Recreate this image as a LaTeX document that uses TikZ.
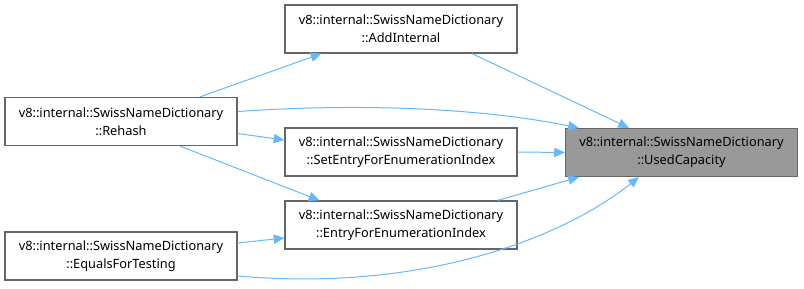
\documentclass[tikz,border=0pt]{standalone}
\usepackage{fontspec}
\setmainfont{Noto Sans}
\usetikzlibrary{arrows.meta,calc}
\definecolor{edgeblue}{HTML}{63B8FF}
\definecolor{boxline}{HTML}{666666}
\definecolor{hilite}{HTML}{999999}
\begin{document}
\begin{tikzpicture}[x=0.75pt,y=-0.75pt,
  fn/.style={draw=boxline,line width=0.9pt,fill=white,minimum width=232*0.75pt,minimum height=48*0.75pt,
    inner sep=0pt,align=center,font=\fontsize{9.6pt}{13.5pt}\selectfont},
  cur/.style={fn,fill=hilite},
  call/.style={draw=edgeblue,line width=0.75pt,-{Triangle[length=8pt,width=7pt]}}]
\useasboundingbox (0,0) rectangle (804,289);
\node[fn]  (rh) at (121,121.5) {v8::internal::SwissNameDictionary\\::Rehash};
\node[fn]  (eq) at (121,256)   {v8::internal::SwissNameDictionary\\::EqualsForTesting};
\node[fn]  (ai) at (401,29)    {v8::internal::SwissNameDictionary\\::AddInternal};
\node[fn]  (se) at (401,152)   {v8::internal::SwissNameDictionary\\::SetEntryForEnumerationIndex};
\node[fn]  (ef) at (401,225)   {v8::internal::SwissNameDictionary\\::EntryForEnumerationIndex};
\node[cur] (uc) at (681.5,152.5) {v8::internal::SwissNameDictionary\\::UsedCapacity};
% callers of Rehash
\draw[call] ($(rh.north)+(79,0)$) -- ($(ai.south west)+(37,0)$);
\draw[call] ($(rh.east)+(0,-10)$) .. controls (360,103) and (480,108) .. ($(uc.north west)+(14,0)$);
\draw[call] ($(rh.east)+(0,12)$) -- ($(se.west)+(0,-12)$);
\draw[call] ($(rh.south)+(59,0)$) -- ($(ef.north west)+(35,0)$);
% direct callers of UsedCapacity
\draw[call] ($(ai.south)+(71,0)$) -- ($(uc.north west)+(64,0)$);
\draw[call] (se.east) -- (uc.west);
\draw[call] ($(ef.north east)+(-20,0)$) -- ($(uc.south west)+(14,0)$);
% EqualsForTesting
\draw[call] ($(eq.east)+(0,-13)$) -- ($(ef.west)+(0,13)$);
\draw[call] ($(eq.east)+(0,20)$) .. controls (420,292) and (560,240) .. ($(uc.south west)+(74,0)$);
\end{tikzpicture}
\end{document}
